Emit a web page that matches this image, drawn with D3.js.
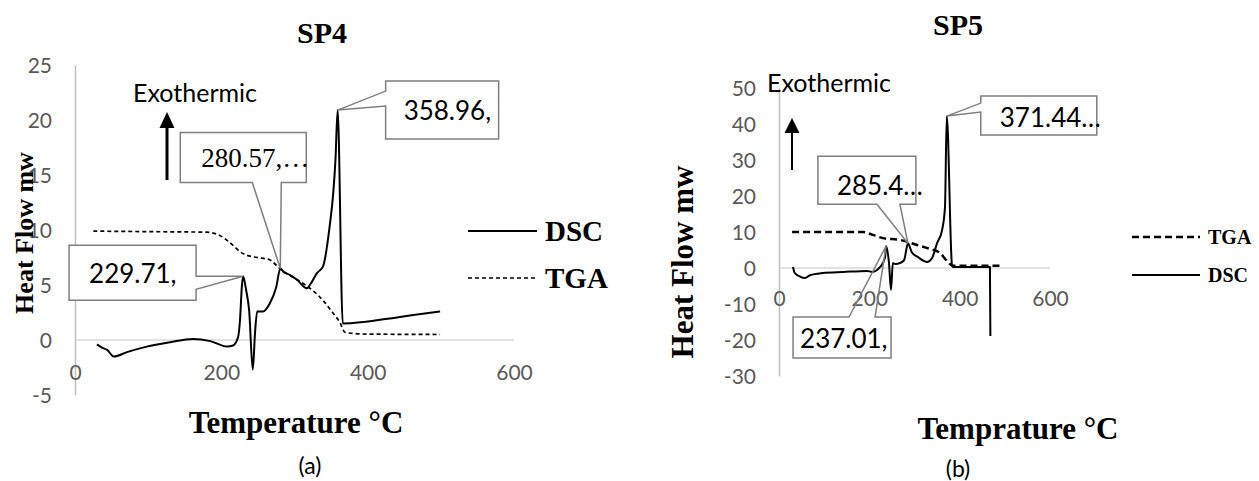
<!DOCTYPE html>
<html>
<head>
<meta charset="utf-8">
<script src="https://cdn.jsdelivr.net/npm/d3@7"></script>
<style>
  body { margin: 0; background: #fff; }
  svg { display: block; }
  .tick text { font-family: Lato, sans-serif; fill: #595959; }
</style>
</head>
<body>
<svg id="chart" width="1259" height="481"></svg>
<script>
// ---- data ----
const sp4Dsc = [[30,-0.4],[37,-0.7],[44,-0.9],[53,-1.5],[71,-1.1],[98,-0.6],[130,-0.2],[161,0.1],[185,-0.1],
  [208,-0.6],[216,-0.5],[223,0.3],[225.5,1.8],[228,4.8],[229.71,5.8],[234,4.5],[238,2.7],[243,-2.7],[246,0.6],
  [249,2.6],[257,2.6],[266,3.3],[275,4.8],[280.57,6.5],[285,6.2],[294,5.9],[303,5.5],[317,4.7],[321,5.0],
  [331,6.1],[339,6.7],[348,10.3],[353,13.4],[356,16.4],[358.96,20.9],[366,1.5],[444,2.1],[465,2.3],[499,2.6]];
const sp4Tga = [[25,9.9],[100,9.85],[180,9.8],[198,9.5],[209,9.0],[216,8.6],[226,8.0],[235,7.7],[249,7.5],
  [266,7.3],[272,7.0],[278,6.6],[298,5.7],[308,5.3],[325,4.5],[339,3.6],[352,2.5],[362,1.6],[369,0.7],
  [380,0.6],[390,0.55],[499,0.5]];
const sp5Dsc = [[31,0.3],[35,-1.4],[46.5,-2.4],[57.5,-2.8],[68.6,-2],[97,-1.4],[142,-1.1],[195,-0.8],[206,-1.1],
  [224,0.3],[235,3],[237.01,6.1],[243.5,1.4],[248,-6.1],[252,1.4],[257,1.1],[268,1.4],[277,2.2],[283,5.8],
  [285.4,6.9],[294,4.4],[308,3],[328,1.7],[339,2.8],[350,6.9],[361,10.5],[367.5,16.9],[371.44,42.2],
  [383,0.8],[385,0.3],[467,0.3],[468,-18.9]];
const sp5Tga = [[29,10],[186,10],[208,9.2],[230,8.3],[268,7.8],[305.5,6.4],[334,5.3],[356,4.2],[374,1.7],
  [385,0.6],[494,0.6]];

const xTicks = [0, 200, 400, 600];
const sp4YTicks = [-5, 0, 5, 10, 15, 20, 25];
const sp5YTicks = [-30, -20, -10, 0, 10, 20, 30, 40, 50];

const sp4Labels = [
  { x: 229.71, y: 5.8, text: "229.71," },
  { x: 280.57, y: 6.5, text: "280.57,\u2026" },
  { x: 358.96, y: 20.9, text: "358.96," }
];
const sp5Labels = [
  { x: 237.01, y: 6.1, text: "237.01," },
  { x: 285.4, y: 6.9, text: "285.4\u2026" },
  { x: 371.44, y: 42.2, text: "371.44\u2026" }
];

const svg = d3.select("#chart");
const serif = "'Liberation Serif', 'Times New Roman', serif";
const plain = d => String(d); // Excel style hyphen minus

// callout outline: box with a pointer leaving one side toward the tip
function calloutPath(b, side, p, q, t) {
  const [tx, ty] = t;
  if (side === "right") return `M${b.x0},${b.y0}H${b.x1}V${p}L${tx},${ty}L${b.x1},${q}V${b.y1}H${b.x0}Z`;
  if (side === "left") return `M${b.x0},${b.y0}H${b.x1}V${b.y1}H${b.x0}V${q}L${tx},${ty}L${b.x0},${p}Z`;
  if (side === "bottom") return `M${b.x0},${b.y0}H${b.x1}V${b.y1}H${q}L${tx},${ty}L${p},${b.y1}H${b.x0}Z`;
  return `M${b.x0},${b.y0}H${p}L${tx},${ty}L${q},${b.y0}H${b.x1}V${b.y1}H${b.x0}Z`;
}

function drawPanel(cfg) {
  const g = svg.append("g");
  const x = d3.scaleLinear().domain([0, 600]).range(cfg.xRange);
  const y = d3.scaleLinear().domain(cfg.yDomain).range(cfg.yRange);

  // zero gridline
  g.append("line")
    .attr("x1", x(0)).attr("x2", x(600))
    .attr("y1", y(0)).attr("y2", y(0))
    .attr("stroke", "#d9d9d9").attr("stroke-width", 1.5);

  // y axis
  const ya = g.append("g")
    .attr("transform", `translate(${x(0)},0)`)
    .call(d3.axisLeft(y).tickValues(cfg.yTicks).tickFormat(plain).tickSize(0).tickPadding(23));
  ya.select(".domain").attr("stroke", "#bfbfbf").attr("stroke-width", 1.5);
  ya.selectAll("text").attr("font-size", 21).attr("dy", "0.35em");

  // x axis labels (Excel puts them a bit under the zero line)
  const xa = g.append("g")
    .attr("transform", `translate(0,${y(0)})`)
    .call(d3.axisBottom(x).tickValues(xTicks).tickFormat(plain).tickSize(0).tickPadding(cfg.xPad));
  xa.select(".domain").remove();
  xa.selectAll("text").attr("font-size", 21).attr("dy", "0.35em");

  const line = d3.line().x(d => x(d[0])).y(d => y(d[1])).curve(d3.curveMonotoneX);

  g.append("path").datum(cfg.tga)
    .attr("d", line).attr("fill", "none")
    .attr("stroke", "#000").attr("stroke-width", cfg.tgaWidth)
    .attr("stroke-dasharray", cfg.tgaDash);
  g.append("path").datum(cfg.dsc)
    .attr("d", line).attr("fill", "none")
    .attr("stroke", "#000").attr("stroke-width", 2).attr("stroke-linejoin", "round");

  // callouts
  cfg.labels.forEach((d, i) => {
    const c = cfg.callouts[i];
    const tx = x(d.x), ty = y(d.y);
    const b = { x0: tx + c.dx[0], x1: tx + c.dx[1], y0: ty + c.dy[0], y1: ty + c.dy[1] };
    const vertical = c.side === "left" || c.side === "right";
    const p = (vertical ? ty : tx) + c.base[0];
    const q = (vertical ? ty : tx) + c.base[1];
    g.append("rect")
      .attr("x", b.x0).attr("y", b.y0)
      .attr("width", b.x1 - b.x0).attr("height", b.y1 - b.y0)
      .attr("fill", "#fff");
    g.append("path")
      .attr("d", calloutPath(b, c.side, p, q, [tx, ty]))
      .attr("fill", "none").attr("stroke", "#7f7f7f").attr("stroke-width", 1.5);
    g.append("text")
      .attr("x", b.x0 + c.pad).attr("y", ty + c.ty)
      .attr("dominant-baseline", "central")
      .attr("font-family", c.serif ? serif : "Lato, sans-serif")
      .attr("font-size", c.serif ? 27 : 26).attr("fill", "#000")
      .text(d.text);
  });

  // exothermic arrow
  const a = cfg.arrow;
  g.append("line")
    .attr("x1", a.x).attr("x2", a.x).attr("y1", a.y1).attr("y2", a.y0 + a.head - 2)
    .attr("stroke", "#000").attr("stroke-width", a.w);
  g.append("path")
    .attr("d", `M${a.x},${a.y0}L${a.x - 7.5},${a.y0 + a.head}L${a.x + 7.5},${a.y0 + a.head}Z`)
    .attr("fill", "#000");
  g.append("text")
    .attr("x", cfg.exo[0]).attr("y", cfg.exo[1])
    .attr("dominant-baseline", "central")
    .attr("font-family", "Lato, sans-serif").attr("font-size", 25)
    .text("Exothermic");

  // titles
  g.append("text").attr("x", cfg.title[0]).attr("y", cfg.title[1])
    .attr("text-anchor", "middle").attr("dominant-baseline", "central")
    .attr("font-family", serif).attr("font-weight", "bold").attr("font-size", 30)
    .text(cfg.name);
  g.append("text")
    .attr("transform", `translate(${cfg.yTitle[0]},${cfg.yTitle[1]}) rotate(-90)`)
    .attr("text-anchor", "middle").attr("dominant-baseline", "central")
    .attr("font-family", serif).attr("font-weight", "bold").attr("font-size", cfg.yTitle[2])
    .text("Heat Flow mw");
  g.append("text").attr("x", cfg.xTitle[0]).attr("y", cfg.xTitle[1])
    .attr("text-anchor", "middle").attr("dominant-baseline", "central")
    .attr("font-family", serif).attr("font-weight", "bold").attr("font-size", 31)
    .text(cfg.xName);
  g.append("text").attr("x", cfg.tag[0]).attr("y", cfg.tag[1])
    .attr("text-anchor", "middle").attr("dominant-baseline", "central")
    .attr("font-family", "Lato, sans-serif").attr("font-size", 23)
    .text(cfg.tagText);

  // legend
  cfg.legend.forEach(l => {
    g.append("line")
      .attr("x1", l.x0).attr("x2", l.x1).attr("y1", l.y).attr("y2", l.y)
      .attr("stroke", "#000").attr("stroke-width", l.dash ? cfg.tgaWidth : 2)
      .attr("stroke-dasharray", l.dash ? cfg.tgaDash : null);
    g.append("text")
      .attr("x", l.x1 + 8).attr("y", l.y)
      .attr("dominant-baseline", "central")
      .attr("font-family", serif).attr("font-weight", "bold").attr("font-size", cfg.legendSize)
      .text(l.name);
  });
}

drawPanel({
  name: "SP4", xName: "Temperature \u00B0C", tagText: "(a)",
  dsc: sp4Dsc, tga: sp4Tga, labels: sp4Labels,
  xRange: [75, 514], yDomain: [-5, 25], yRange: [395, 65], yTicks: sp4YTicks, xPad: 33,
  tgaWidth: 1.7, tgaDash: "4,3",
  callouts: [
    { dx: [-174, -47], dy: [-31, 24], side: "right", base: [0, 13], pad: 20, ty: -3 },
    { dx: [-100, 26], dy: [-136, -86], side: "bottom", base: [-28, 1], pad: 21, ty: -111, serif: true },
    { dx: [48, 161], dy: [-29, 29], side: "left", base: [-19, -4], pad: 18, ty: 0 }
  ],
  arrow: { x: 167, y0: 112, y1: 180, head: 16, w: 3 },
  exo: [133, 92],
  title: [322, 32], yTitle: [24, 233, 26], xTitle: [296, 422], tag: [310, 465],
  legendSize: 29,
  legend: [
    { name: "DSC", x0: 468, x1: 537, y: 231, dash: false },
    { name: "TGA", x0: 468, x1: 537, y: 278, dash: true }
  ]
});

drawPanel({
  name: "SP5", xName: "Temprature \u00B0C", tagText: "(b)",
  dsc: sp5Dsc, tga: sp5Tga, labels: sp5Labels,
  xRange: [779, 1050], yDomain: [-30, 50], yRange: [376, 88], yTicks: sp5YTicks, xPad: 31,
  tgaWidth: 2.5, tgaDash: "7,4",
  callouts: [
    { dx: [-93, 5], dy: [71, 112], side: "top", base: [-37, -11], pad: 7, ty: 92 },
    { dx: [-90, 8], dy: [-87, -39], side: "bottom", base: [-31, -8], pad: 19, ty: -58 },
    { dx: [34, 150], dy: [-20, 19], side: "left", base: [-13, -4], pad: 19, ty: 1 }
  ],
  arrow: { x: 792, y0: 118, y1: 170, head: 15, w: 2 },
  exo: [767, 82],
  title: [958, 24], yTitle: [682, 262, 31], xTitle: [1018, 428], tag: [958, 468],
  legendSize: 20,
  legend: [
    { name: "TGA", x0: 1132, x1: 1200, y: 237, dash: true },
    { name: "DSC", x0: 1132, x1: 1200, y: 275, dash: false }
  ]
});
</script>
</body>
</html>
